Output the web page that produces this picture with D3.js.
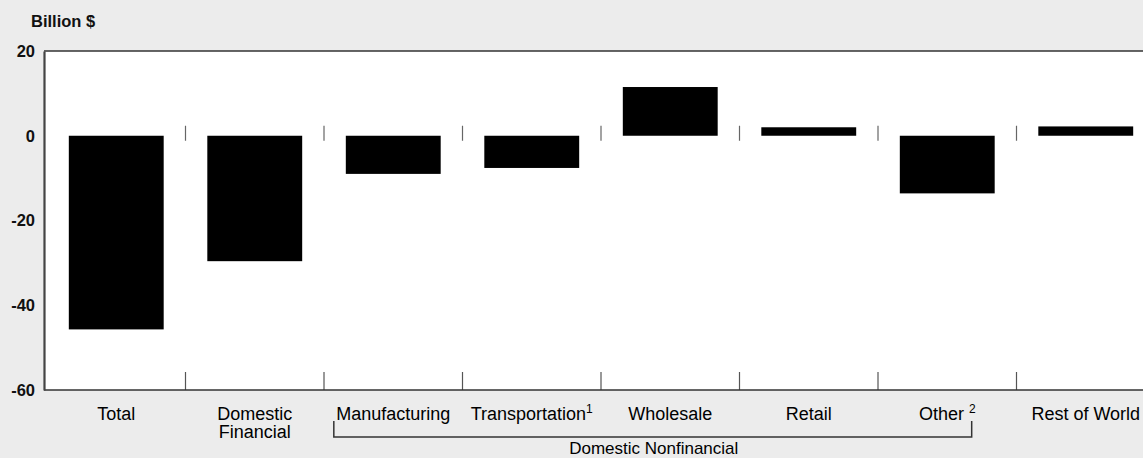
<!DOCTYPE html>
<html>
<head>
<meta charset="utf-8">
<script src="https://cdn.jsdelivr.net/npm/d3@7"></script>
<style>
  body { margin: 0; background: #ececec; }
  svg { display: block; font-family: "Liberation Sans", Arial, Helvetica, sans-serif; }
</style>
</head>
<body>
<div class="chart"></div>
<script>
// data
var categories = ["Total", "Domestic Financial", "Manufacturing", "Transportation", "Wholesale", "Retail", "Other", "Rest of World"];
var values = [-45.7, -29.6, -9, -7.6, 11.5, 2, -13.6, 2.2];
var labelLines = [["Total"], ["Domestic", "Financial"], ["Manufacturing"], ["Transportation"], ["Wholesale"], ["Retail"], ["Other "], ["Rest of World"]];
var labelNotes = ["", "", "", "1", "", "", "2", ""];
var yTicks = [20, 0, -20, -40, -60];
var groupName = "Domestic Nonfinancial";
var groupFrom = "Manufacturing", groupTo = "Other";
var yTitle = "Billion $";

var W = 1143, H = 458;
var plot = { left: 44, top: 51, bottom: 390 };

var svg = d3.select(".chart").append("svg")
  .attr("width", W).attr("height", H);

// 척도
var x = d3.scaleBand()
  .domain(categories)
  .range([47, 1155])
  .paddingInner(0.315)
  .paddingOuter(0.1575);

var y = d3.scaleLinear()
  .domain([-60, 20])
  .range([plot.bottom, plot.top]);

// 흰 플롯 영역
svg.append("rect")
  .attr("x", plot.left).attr("y", plot.top)
  .attr("width", W - plot.left).attr("height", plot.bottom - plot.top)
  .attr("fill", "#fff");

// 막대
svg.selectAll(".bar")
  .data(values)
  .enter().append("rect")
  .attr("class", "bar")
  .attr("x", function (d, i) { return x(categories[i]); })
  .attr("width", x.bandwidth())
  .attr("y", function (d) { return y(Math.max(0, d)); })
  .attr("height", function (d) { return Math.abs(y(d) - y(0)); })
  .attr("fill", "#000");

// 구분 눈금 (0선, 아래축)
var seps = categories.slice(1).map(function (c) { return x(c) - x.step() * x.paddingInner() / 2; });
svg.selectAll(".sep0")
  .data(seps).enter().append("line")
  .attr("x1", function (d) { return d; }).attr("x2", function (d) { return d; })
  .attr("y1", y(0) - 10).attr("y2", y(0) + 5)
  .attr("stroke", "#666").attr("stroke-width", 1.2);
svg.selectAll(".sepB")
  .data(seps).enter().append("line")
  .attr("x1", function (d) { return d; }).attr("x2", function (d) { return d; })
  .attr("y1", plot.bottom - 18).attr("y2", plot.bottom)
  .attr("stroke", "#555").attr("stroke-width", 1.2);

// 틀
svg.append("line").attr("x1", plot.left).attr("x2", W).attr("y1", plot.top).attr("y2", plot.top)
  .attr("stroke", "#333").attr("stroke-width", 1.5);
svg.append("line").attr("x1", plot.left).attr("x2", W).attr("y1", plot.bottom).attr("y2", plot.bottom)
  .attr("stroke", "#333").attr("stroke-width", 1.5);

// y축
var yAxis = d3.axisLeft(y)
  .tickValues(yTicks)
  .tickSize(0)
  .tickPadding(9)
  .tickFormat(function (d) { return String(d); });
var gy = svg.append("g")
  .attr("transform", "translate(" + plot.left + ",0)")
  .call(yAxis);
gy.select(".domain").attr("stroke", "#444").attr("stroke-width", 2.2);
gy.selectAll("text")
  .attr("font-size", "16.5px")
  .attr("font-weight", "bold")
  .attr("fill", "#111")
  .attr("font-family", "Liberation Sans, Arial, sans-serif");

svg.append("text")
  .attr("x", 31).attr("y", 26.5)
  .attr("font-size", "16.5px").attr("font-weight", "bold").attr("fill", "#111")
  .text(yTitle);

// 범주 라벨
var lab = svg.selectAll(".lab")
  .data(categories).enter().append("text")
  .attr("class", "lab")
  .attr("text-anchor", "middle")
  .attr("font-size", "18px")
  .attr("fill", "#000")
  .attr("transform", function (d) { return "translate(" + (x(d) + x.bandwidth() / 2) + ",420)"; });
lab.each(function (d, i) {
  var t = d3.select(this);
  labelLines[i].forEach(function (line, k) {
    t.append("tspan").attr("x", 0).attr("y", k * 18).text(line);
  });
  if (labelNotes[i]) {
    t.append("tspan").attr("dy", -7).attr("font-size", "12px").text(labelNotes[i]);
  }
});

// 묶음 괄호
var bx1 = x(groupFrom) - 12, bx2 = x(groupTo) + x.bandwidth() - 23;
svg.append("path")
  .attr("d", "M" + bx1 + ",421 V437 H" + bx2 + " V421")
  .attr("fill", "none").attr("stroke", "#333").attr("stroke-width", 1.5);
svg.append("text")
  .attr("x", (bx1 + bx2) / 2 + 1).attr("y", 454)
  .attr("text-anchor", "middle")
  .attr("font-size", "17px").attr("fill", "#000")
  .text(groupName);
</script>
</body>
</html>
